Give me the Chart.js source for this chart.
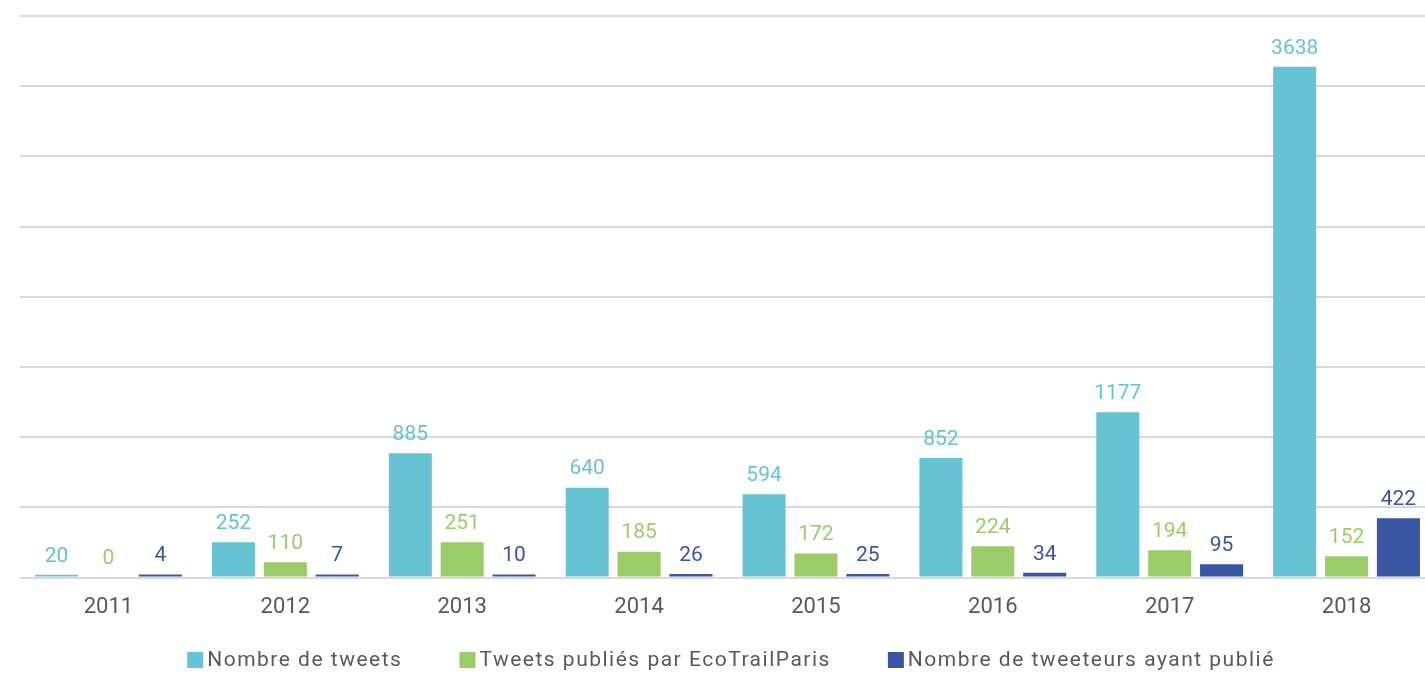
<!DOCTYPE html>
<html>
<head>
  <title>EcoTrailParis tweets</title>
  <script src="https://cdn.jsdelivr.net/npm/chart.js"></script>
  <style>
    body { margin: 0; background: #fff; overflow: hidden; }
    #chart { display: block; }
  </style>
</head>
<body>
  <!-- a bit wider than the window: the last group is cut at the right edge, like the original -->
  <canvas id="chart" width="1435" height="675"></canvas>
  <script>
    // Data
    const years = ['2011', '2012', '2013', '2014', '2015', '2016', '2017', '2018'];
    const tweets = [20, 252, 885, 640, 594, 852, 1177, 3638];
    const ecoTrailTweets = [0, 110, 251, 185, 172, 224, 194, 152];
    const tweeters = [4, 7, 10, 26, 25, 34, 95, 422];

    const seriesNames = ['Nombre de tweets', 'Tweets publiés par EcoTrailParis', 'Nombre de tweeteurs ayant publié'];
    const colors = ['#67c2d4', '#9ccc6a', '#3a55a4'];

    // draw the value above each bar, in the series colour
    const valueLabels = {
      id: 'valueLabels',
      afterDatasetsDraw(chart) {
        const ctx = chart.ctx;
        ctx.save();
        ctx.font = '21px Roboto';
        ctx.textAlign = 'center';
        ctx.textBaseline = 'bottom';
        chart.data.datasets.forEach((ds, i) => {
          const meta = chart.getDatasetMeta(i);
          meta.data.forEach((bar, j) => {
            ctx.fillStyle = ds.backgroundColor;
            ctx.fillText(ds.data[j], bar.x, bar.y - 8);
          });
        });
        ctx.restore();
      }
    };

    // legend drawn by hand: small square, tight gap, wide spacing between items
    const bottomLegend = {
      id: 'bottomLegend',
      afterDraw(chart) {
        const ctx = chart.ctx;
        const box = 16, gapText = 4, gapItem = 57, y = 660;
        ctx.save();
        ctx.font = '21px Roboto';
        ctx.letterSpacing = '1.5px';
        ctx.textBaseline = 'middle';
        const items = chart.data.datasets.map(ds => ({
          text: ds.label, color: ds.backgroundColor,
          w: box + gapText + ctx.measureText(ds.label).width
        }));
        const total = items.reduce((s, it) => s + it.w, 0) + gapItem * (items.length - 1);
        let x = 731 - total / 2;
        items.forEach(it => {
          ctx.fillStyle = it.color;
          ctx.fillRect(x, y - box / 2, box, box);
          ctx.fillStyle = '#595959';
          ctx.fillText(it.text, x + box + gapText, y + 1);
          x += it.w + gapItem;
        });
        ctx.restore();
      }
    };

    Chart.defaults.font.family = 'Roboto';
    Chart.defaults.color = '#595959';

    new Chart(document.getElementById('chart'), {
      type: 'bar',
      data: {
        labels: years,
        datasets: [
          { label: seriesNames[0], data: tweets, backgroundColor: colors[0] },
          { label: seriesNames[1], data: ecoTrailTweets, backgroundColor: colors[1] },
          { label: seriesNames[2], data: tweeters, backgroundColor: colors[2], minBarLength: 3 }
        ]
      },
      options: {
        responsive: false,
        animation: false,
        categoryPercentage: 0.88,
        barPercentage: 0.83,
        layout: { padding: { left: 20, right: 0, top: 16, bottom: 45 } },
        scales: {
          x: {
            grid: { display: false },
            border: { display: false },
            ticks: { font: { size: 22 }, color: '#595959', padding: 9 }
          },
          y: {
            min: 0,
            max: 4000,
            ticks: { display: false, stepSize: 500 },
            border: { display: false },
            grid: { color: '#d9d9d9', lineWidth: 2, drawTicks: false }
          }
        },
        plugins: {
          legend: { display: false },
          tooltip: { enabled: false }
        }
      },
      plugins: [valueLabels, bottomLegend]
    });
  </script>
</body>
</html>
